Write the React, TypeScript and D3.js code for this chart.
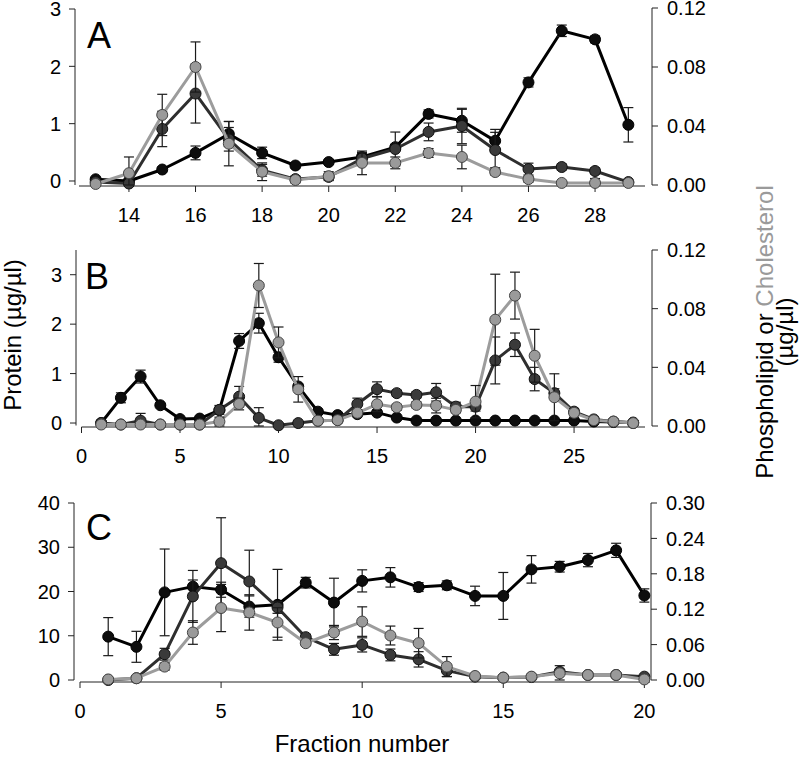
import React from 'react';
import * as d3 from 'd3';

// ---------- DATA ----------
// Panel A (fractions 13–29)
const fractionsA = [13, 14, 15, 16, 17, 18, 19, 20, 21, 22, 23, 24, 25, 26, 27, 28, 29];
const proteinA = [0.03, 0.0, 0.2, 0.49, 0.82, 0.49, 0.27, 0.33, 0.42, 0.59, 1.17, 1.05, 0.7, 1.72, 2.62, 2.47, 0.98];
const proteinAErr = [0.03, 0.03, 0.04, 0.12, 0.22, 0.1, 0.04, 0.04, 0.05, 0.05, 0.07, 0.2, 0.2, 0.08, 0.1, 0.06, 0.3];
const phosA = [0.002, 0.001, 0.038, 0.062, 0.031, 0.01, 0.004, 0.0055, 0.018, 0.0244, 0.036, 0.04, 0.0237, 0.0108, 0.0122, 0.0095, 0.002];
const phosAErr = [0.001, 0.001, 0.012, 0.02, 0.008, 0.004, 0.002, 0.002, 0.004, 0.0115, 0.006, 0.012, 0.012, 0.004, 0.002, 0.002, 0.001];
const cholA = [0.0007, 0.008, 0.0475, 0.08, 0.028, 0.009, 0.0034, 0.006, 0.015, 0.015, 0.0217, 0.019, 0.0088, 0.004, 0.0014, 0.0014, 0.0014];
const cholAErr = [0.001, 0.011, 0.014, 0.017, 0.015, 0.006, 0.002, 0.003, 0.008, 0.004, 0.003, 0.008, 0.002, 0.002, 0.001, 0.003, 0.001];
const xTicksA = [14, 16, 18, 20, 22, 24, 26, 28];
const leftTicksA = [0, 1, 2, 3];
const rightTicksA = [0, 0.04, 0.08, 0.12];

// Panel B (fractions 1–28)
const fractionsB = [1, 2, 3, 4, 5, 6, 7, 8, 9, 10, 11, 12, 13, 14, 15, 16, 17, 18, 19, 20, 21, 22, 23, 24, 25, 26, 27, 28];
const proteinB = [0.0, 0.51, 0.94, 0.36, 0.08, 0.09, 0.26, 1.66, 2.02, 1.33, 0.74, 0.23, 0.16, 0.18, 0.21, 0.11, 0.05, 0.05, 0.05, 0.05, 0.05, 0.05, 0.05, 0.05, 0.05, 0.03, 0.02, 0.01];
const proteinBErr = [0.02, 0.1, 0.13, 0.03, 0.02, 0.02, 0.03, 0.15, 0.2, 0.1, 0.05, 0.03, 0.02, 0.03, 0.03, 0.02, 0.02, 0.02, 0.02, 0.02, 0.02, 0.02, 0.02, 0.02, 0.02, 0.02, 0.02, 0.02];
const phosB = [0.002, 0.001, 0.0036, 0.001, 0.001, 0.001, 0.011, 0.02, 0.0055, 0.0005, 0.002, 0.0036, 0.004, 0.015, 0.0251, 0.0224, 0.0212, 0.023, 0.0132, 0.0132, 0.0447, 0.0554, 0.032, 0.0224, 0.0098, 0.0045, 0.003, 0.002];
const phosBErr = [0.001, 0.001, 0.005, 0.001, 0.001, 0.001, 0.003, 0.007, 0.007, 0.001, 0.001, 0.001, 0.001, 0.004, 0.005, 0.002, 0.002, 0.006, 0.003, 0.003, 0.016, 0.008, 0.008, 0.003, 0.002, 0.001, 0.001, 0.001];
const cholB = [0.001, 0.001, 0.001, 0.001, 0.001, 0.001, 0.003, 0.015, 0.0958, 0.057, 0.025, 0.0036, 0.004, 0.009, 0.0148, 0.0128, 0.0144, 0.0139, 0.011, 0.0166, 0.0725, 0.0889, 0.0479, 0.0196, 0.009, 0.004, 0.003, 0.002];
const cholBErr = [0.001, 0.001, 0.001, 0.001, 0.001, 0.001, 0.003, 0.004, 0.015, 0.0105, 0.0087, 0.001, 0.001, 0.002, 0.005, 0.002, 0.002, 0.005, 0.002, 0.011, 0.031, 0.016, 0.018, 0.016, 0.003, 0.001, 0.001, 0.001];
const xTicksB = [0, 5, 10, 15, 20, 25];
const leftTicksB = [0, 1, 2, 3];
const rightTicksB = [0, 0.04, 0.08, 0.12];

// Panel C (fractions 1–20)
const fractionsC = [1, 2, 3, 4, 5, 6, 7, 8, 9, 10, 11, 12, 13, 14, 15, 16, 17, 18, 19, 20];
const proteinC = [9.8, 7.5, 19.8, 21.1, 20.4, 16.6, 17.0, 22.0, 17.5, 22.4, 23.2, 21.0, 21.4, 19.0, 19.0, 25.0, 25.6, 27.1, 29.3, 19.1];
const proteinCErr = [4.3, 3.5, 9.8, 1.5, 1.7, 2.4, 8.0, 1.2, 5.5, 2.5, 2.2, 1.0, 1.0, 2.2, 5.3, 3.1, 1.2, 1.5, 1.6, 1.5];
const phosC = [0.0, 0.003, 0.0437, 0.1417, 0.198, 0.167, 0.123, 0.0726, 0.052, 0.0595, 0.0425, 0.035, 0.0159, 0.0057, 0.004, 0.005, 0.014, 0.0085, 0.0085, 0.0057];
const phosCErr = [0.001, 0.001, 0.01, 0.044, 0.077, 0.053, 0.01, 0.005, 0.01, 0.012, 0.01, 0.013, 0.01, 0.002, 0.002, 0.002, 0.004, 0.002, 0.002, 0.002];
const cholC = [0.001, 0.003, 0.0227, 0.0805, 0.122, 0.1145, 0.0975, 0.0624, 0.0805, 0.099, 0.0754, 0.0624, 0.0227, 0.0068, 0.004, 0.0057, 0.0113, 0.0085, 0.0085, 0.001];
const cholCErr = [0.001, 0.001, 0.006, 0.02, 0.04, 0.03, 0.025, 0.004, 0.012, 0.025, 0.016, 0.025, 0.017, 0.002, 0.002, 0.002, 0.013, 0.002, 0.002, 0.002];
const xTicksC = [0, 5, 10, 15, 20];
const leftTicksC = [0, 10, 20, 30, 40];
const rightTicksC = [0, 0.06, 0.12, 0.18, 0.24, 0.3];

// ---------- STYLE ----------
const FONT = "'Liberation Sans', Arial, Helvetica, sans-serif";
const AXIS = '#222';

type Series = { values: number[]; err: number[]; axis: 'left' | 'right'; line: string; fill: string; stroke: string };
type PanelCfg = {
  letter: string;
  fractions: number[];
  xDomain: [number, number];
  xRange: [number, number];
  xTicks: number[];
  xAxisY: number;
  leftX: number;
  leftDomain: [number, number];
  leftRange: [number, number];
  leftTicks: number[];
  leftFmt: (v: number) => string;
  rightX: number;
  rightDomain: [number, number];
  rightRange: [number, number];
  rightTicks: number[];
  rightFmt: (v: number) => string;
  letterPos: [number, number];
  series: Series[];
};

const mk = (values: number[], err: number[], kind: 'protein' | 'phos' | 'chol'): Series => {
  if (kind === 'protein') return { values, err, axis: 'left', line: '#000', fill: '#0d0d0d', stroke: '#000' };
  if (kind === 'phos') return { values, err, axis: 'right', line: '#2e2e2e', fill: '#3a3a3a', stroke: '#111' };
  return { values, err, axis: 'right', line: '#9c9c9c', fill: '#9a9a9a', stroke: '#444' };
};

const fmt2 = d3.format('.2f');
const fmtInt = d3.format('d');

const panels: PanelCfg[] = [
  {
    letter: 'A',
    fractions: fractionsA,
    xDomain: [12.5, 29.5],
    xRange: [79, 645],
    xTicks: xTicksA,
    xAxisY: 186,
    leftX: 75,
    leftDomain: [-0.07, 3],
    leftRange: [185, 9],
    leftTicks: leftTicksA,
    leftFmt: fmtInt,
    rightX: 652,
    rightDomain: [0, 0.12],
    rightRange: [185, 8],
    rightTicks: rightTicksA,
    rightFmt: fmt2,
    letterPos: [87, 48],
    series: [mk(proteinA, proteinAErr, 'protein'), mk(phosA, phosAErr, 'phos'), mk(cholA, cholAErr, 'chol')],
  },
  {
    letter: 'B',
    fractions: fractionsB,
    xDomain: [0, 28.6],
    xRange: [81.5, 645],
    xTicks: xTicksB,
    xAxisY: 427,
    leftX: 76,
    leftDomain: [-0.05, 3.5],
    leftRange: [425.5, 250],
    leftTicks: leftTicksB,
    leftFmt: fmtInt,
    rightX: 652,
    rightDomain: [0, 0.12],
    rightRange: [426, 250],
    rightTicks: rightTicksB,
    rightFmt: fmt2,
    letterPos: [85, 289],
    series: [mk(proteinB, proteinBErr, 'protein'), mk(phosB, phosBErr, 'phos'), mk(cholB, cholBErr, 'chol')],
  },
  {
    letter: 'C',
    fractions: fractionsC,
    xDomain: [0, 20.2],
    xRange: [80, 650],
    xTicks: xTicksC,
    xAxisY: 682,
    leftX: 74,
    leftDomain: [0, 40],
    leftRange: [680, 503],
    leftTicks: leftTicksC,
    leftFmt: fmtInt,
    rightX: 651,
    rightDomain: [0, 0.3],
    rightRange: [680, 503],
    rightTicks: rightTicksC,
    rightFmt: fmt2,
    letterPos: [86, 540],
    series: [mk(proteinC, proteinCErr, 'protein'), mk(phosC, phosCErr, 'phos'), mk(cholC, cholCErr, 'chol')],
  },
];

const TICK = 6;

function Panel({ cfg }: { cfg: PanelCfg }) {
  const x = d3.scaleLinear().domain(cfg.xDomain).range(cfg.xRange);
  const yL = d3.scaleLinear().domain(cfg.leftDomain).range(cfg.leftRange);
  const yR = d3.scaleLinear().domain(cfg.rightDomain).range(cfg.rightRange);

  return (
    <g>
      {/* left axis */}
      <line x1={cfg.leftX} x2={cfg.leftX} y1={cfg.leftRange[0]} y2={cfg.leftRange[1]} stroke={AXIS} strokeWidth={1} />
      {cfg.leftTicks.map((t) => (
        <g key={'l' + t}>
          <line x1={cfg.leftX - TICK} x2={cfg.leftX} y1={yL(t)} y2={yL(t)} stroke={AXIS} />
          <text x={cfg.leftX - 14} y={yL(t)} dy="0.36em" textAnchor="end" fontSize={20} fontFamily={FONT} fill="#000">
            {cfg.leftFmt(t)}
          </text>
        </g>
      ))}
      {/* right axis */}
      <line x1={cfg.rightX} x2={cfg.rightX} y1={cfg.rightRange[0]} y2={cfg.rightRange[1]} stroke={AXIS} strokeWidth={1} />
      {cfg.rightTicks.map((t) => (
        <g key={'r' + t}>
          <line x1={cfg.rightX} x2={cfg.rightX + TICK} y1={yR(t)} y2={yR(t)} stroke={AXIS} />
          <text x={cfg.rightX + 15} y={yR(t)} dy="0.36em" textAnchor="start" fontSize={20} fontFamily={FONT} fill="#000">
            {cfg.rightFmt(t)}
          </text>
        </g>
      ))}
      {/* bottom axis */}
      <line x1={cfg.xRange[0]} x2={cfg.xRange[1]} y1={cfg.xAxisY} y2={cfg.xAxisY} stroke={AXIS} strokeWidth={1} />
      {cfg.xTicks.map((t) => (
        <g key={'x' + t}>
          <line x1={x(t)} x2={x(t)} y1={cfg.xAxisY} y2={cfg.xAxisY + TICK} stroke={AXIS} />
          <text x={x(t)} y={cfg.xAxisY + 36} textAnchor="middle" fontSize={20} fontFamily={FONT} fill="#000">
            {t}
          </text>
        </g>
      ))}
      <text x={cfg.letterPos[0]} y={cfg.letterPos[1]} fontSize={36} fontFamily={FONT} fill="#000">
        {cfg.letter}
      </text>
      {/* series */}
      {cfg.series.map((s, si) => {
        const y = s.axis === 'left' ? yL : yR;
        const floor = s.axis === 'left' ? cfg.leftDomain[0] : cfg.rightDomain[0];
        const pts = cfg.fractions.map((f, i) => ({ f, v: s.values[i], e: s.err[i] }));
        const line = d3
          .line<{ f: number; v: number }>()
          .x((d) => x(d.f))
          .y((d) => y(d.v));
        return (
          <g key={'s' + si}>
            <path d={line(pts) || ''} fill="none" stroke={s.line} strokeWidth={3} strokeLinejoin="round" />
            {pts.map((p, i) => {
              const cx = x(p.f);
              const yt = y(p.v + p.e);
              const yb = y(Math.max(p.v - p.e, floor));
              return (
                <g key={'e' + i} stroke="#1a1a1a" strokeWidth={1.2}>
                  <line x1={cx} x2={cx} y1={yt} y2={yb} />
                  <line x1={cx - 5} x2={cx + 5} y1={yt} y2={yt} />
                  <line x1={cx - 5} x2={cx + 5} y1={yb} y2={yb} />
                </g>
              );
            })}
            {pts.map((p, i) => (
              <circle key={'c' + i} cx={x(p.f)} cy={y(p.v)} r={5.5} fill={s.fill} stroke={s.stroke} strokeWidth={1} />
            ))}
          </g>
        );
      })}
    </g>
  );
}

export default function App() {
  return (
    <div style={{ position: 'absolute', left: 0, top: 0, width: 800, height: 759, background: '#fff' }}>
      <svg width={800} height={759} viewBox="0 0 800 759" style={{ display: 'block' }}>
        <rect x={0} y={0} width={800} height={759} fill="#fff" />
        {panels.map((p) => (
          <Panel key={p.letter} cfg={p} />
        ))}
        {/* left title */}
        <text transform="translate(21,335) rotate(-90)" textAnchor="middle" fontSize={24} fontFamily={FONT} fill="#000">
          Protein (µg/µl)
        </text>
        {/* right title */}
        <text transform="translate(773,332) rotate(-90)" textAnchor="middle" fontSize={24} fontFamily={FONT} fill="#000">
          Phospholipid or <tspan fill="#9a9a9a">Cholesterol</tspan>
        </text>
        <text transform="translate(793,332) rotate(-90)" textAnchor="middle" fontSize={24} fontFamily={FONT} fill="#000">
          (µg/µl)
        </text>
        {/* bottom title */}
        <text x={362} y={752} textAnchor="middle" fontSize={24} fontFamily={FONT} fill="#000">
          Fraction number
        </text>
      </svg>
    </div>
  );
}
